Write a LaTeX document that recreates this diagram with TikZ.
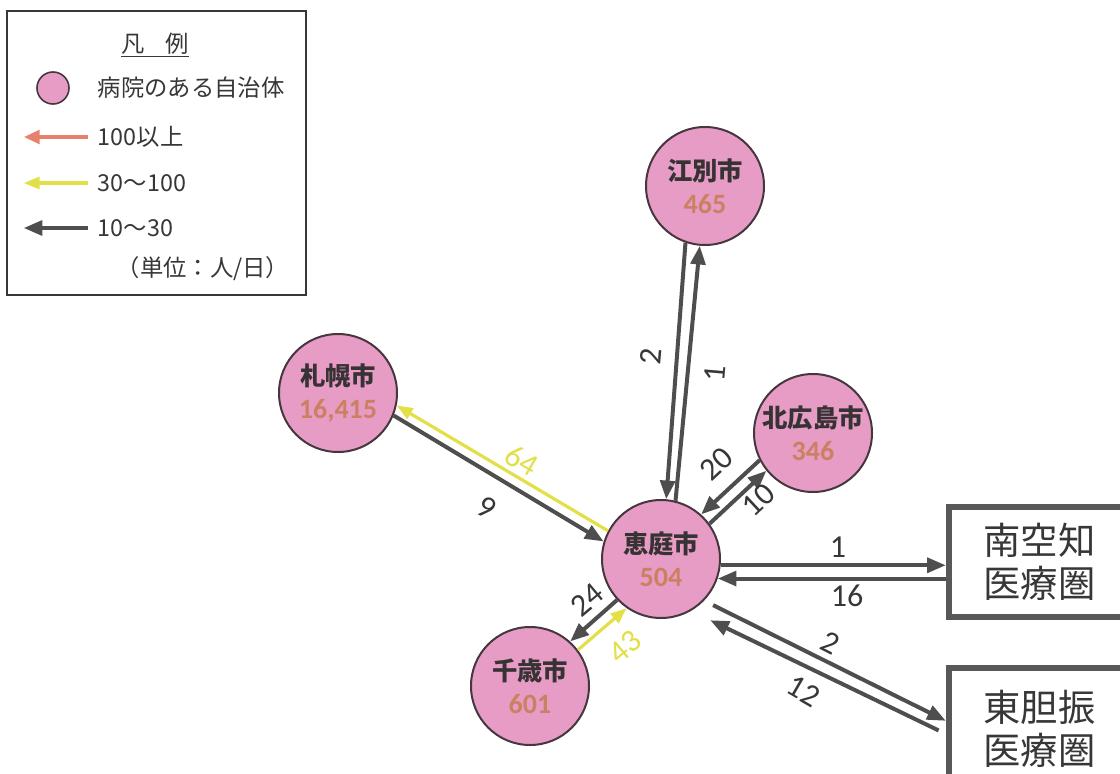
\documentclass[tikz,border=0pt]{standalone}
\usepackage{fontspec}
\setmainfont{Carlito}
\newfontfamily\jpfont{Noto Sans CJK JP}
\usetikzlibrary{arrows.meta}

\definecolor{citypink}{RGB}{231,156,198}
\definecolor{cityline}{RGB}{70,55,62}
\definecolor{citytext}{RGB}{55,50,52}
\definecolor{numtan}{RGB}{204,128,98}
\definecolor{flowdark}{RGB}{78,78,78}
\definecolor{flowyellow}{RGB}{226,224,70}
\definecolor{flowsalmon}{RGB}{232,128,108}
\definecolor{boxgray}{RGB}{88,88,88}
\definecolor{inkgray}{RGB}{55,55,55}

\newcommand{\citynum}[1]{{\rmfamily\bfseries\fontsize{21}{24}\selectfont\textcolor{numtan}{#1}}}

\tikzset{every picture/.style={line width=0.75pt}}
\tikzset{
  city/.style={circle, draw=cityline, line width=1.5pt, fill=citypink, minimum size=88.5pt, inner sep=0pt, align=center, text=citytext, font=\jpfont\bfseries\fontsize{19}{25}\selectfont},
  area/.style={draw=boxgray, line width=4.5pt, fill=white, minimum width=136pt, inner sep=0pt, align=center, text=inkgray, font=\jpfont\fontsize{28}{32}\selectfont},
  flowlow/.style={draw=flowdark, line width=3pt, -{Triangle[length=14pt,width=11pt]}},
  flowmid/.style={draw=flowyellow, line width=2.4pt, -{Triangle[length=12pt,width=9pt]}},
  flowhigh/.style={draw=flowsalmon, line width=3.5pt, -{Triangle[length=12pt,width=10pt]}},
  lbl/.style={text=inkgray, inner sep=1pt, font=\fontsize{24}{24}\selectfont},
  lblmid/.style={text=flowyellow, inner sep=1pt, font=\fontsize{24}{24}\selectfont},
  legtext/.style={anchor=west, text=inkgray, font=\jpfont\fontsize{17.5}{20}\selectfont}
}

\begin{document}
\begin{tikzpicture}[x=0.75pt,y=0.75pt,yscale=-1,xscale=1]
	\useasboundingbox (0,0) rectangle (1120,774);
	\clip (0,0) rectangle (1120,774);

	%Shape: Rectangle (legend)
	\draw [draw=inkgray, line width=1.1pt] (7,11) rectangle (306,295);
	% Text Node
	\node [legtext, anchor=center] (legtitle) at (155,45) {\underline{凡\hspace{0.9em}例}};
	%Shape: Circle
	\node [city, minimum size=24pt, line width=1.2pt] (legdot) at (53,88) {};
	% Text Node
	\node [legtext] (legcity) at (93,88) {病院のある自治体};
	\node [legtext] (leghigh) at (93,137) {100以上};
	\node [legtext] (legmid) at (93,183) {30〜100};
	\node [legtext] (leglow) at (93,228) {10〜30};
	\node [legtext, anchor=center] (legunit) at (203,269) {（単位：人/日）};
	%Straight Lines
	\draw [flowhigh] ([xshift=-4pt]leghigh.west) -- ++(-64,0);
	\draw [flowmid] ([xshift=-4pt]legmid.west) -- ++(-64,0);
	\draw [flowlow] ([xshift=-4pt]leglow.west) -- ++(-64,0);

	%Shape: Circle
	\node [city] (ebetsu) at (705,186) {江別市\\\citynum{465}};
	\node [city] (kita) at (813,433) {北広島市\\\citynum{346}};
	\node [city] (sapporo) at (338,393) {札幌市\\\citynum{16,415}};
	\node [city] (eniwa) at (661,559) {恵庭市\\\citynum{504}};
	\node [city] (chitose) at (530,686) {千歳市\\\citynum{601}};
	%Shape: Rectangle
	\node [area, minimum height=82.5pt] (sorachi) at (1039.5,562) {南空知\\医療圏};
	\node [area, minimum height=92pt] (iburi) at (1039.5,729) {東胆振\\医療圏};

	%Straight Lines
	\draw [flowlow] (ebetsu.251) -- (eniwa.85);
	\draw [flowlow] (eniwa.76) -- (ebetsu.265);
	\draw [flowlow] (kita.207) -- (eniwa.48);
	\draw [flowlow] (eniwa.36) -- (kita.219);
	\draw [flowmid] (eniwa.152) -- (sapporo.348);
	\draw [flowlow] (sapporo.338) -- (eniwa.163);
	\draw [flowlow] (eniwa.223) -- (chitose.48);
	\draw [flowmid] (chitose.37) -- (eniwa.235);
	\draw [flowlow] (eniwa.354) -- (eniwa.354 -| sorachi.west);
	\draw [flowlow] (sorachi.west |- eniwa.341) -- (eniwa.341);
	\draw [flowlow, shorten <=7.5pt] (eniwa.316) -- (iburi.175);
	\draw [flowlow, shorten <=6pt, shorten >=16pt] (iburi.183) -- (eniwa.300);

	% Text Node
	\node [lbl, rotate=85] (eb-in) at (651,357) {2};
	\node [lbl, rotate=85] (eb-out) at (715,374) {1};
	\node [lbl, rotate=43] (ki-in) at (716,464) {20};
	\node [lbl, rotate=43] (ki-out) at (758,500) {10};
	\node [lblmid, rotate=-30] (sa-out) at (522,460) {64};
	\node [lbl, rotate=-30] (sa-in) at (487,508) {9};
	\node [lbl, rotate=40] (ch-in) at (587,600) {24};
	\node [lblmid, rotate=40] (ch-out) at (625,647) {43};
	\node [lbl] (so-out) at (838,547) {1};
	\node [lbl] (so-in) at (847,596) {16};
	\node [lbl, rotate=-27] (ib-out) at (830,643) {2};
	\node [lbl, rotate=-30] (ib-in) at (804,691) {12};

\end{tikzpicture}
\end{document}
